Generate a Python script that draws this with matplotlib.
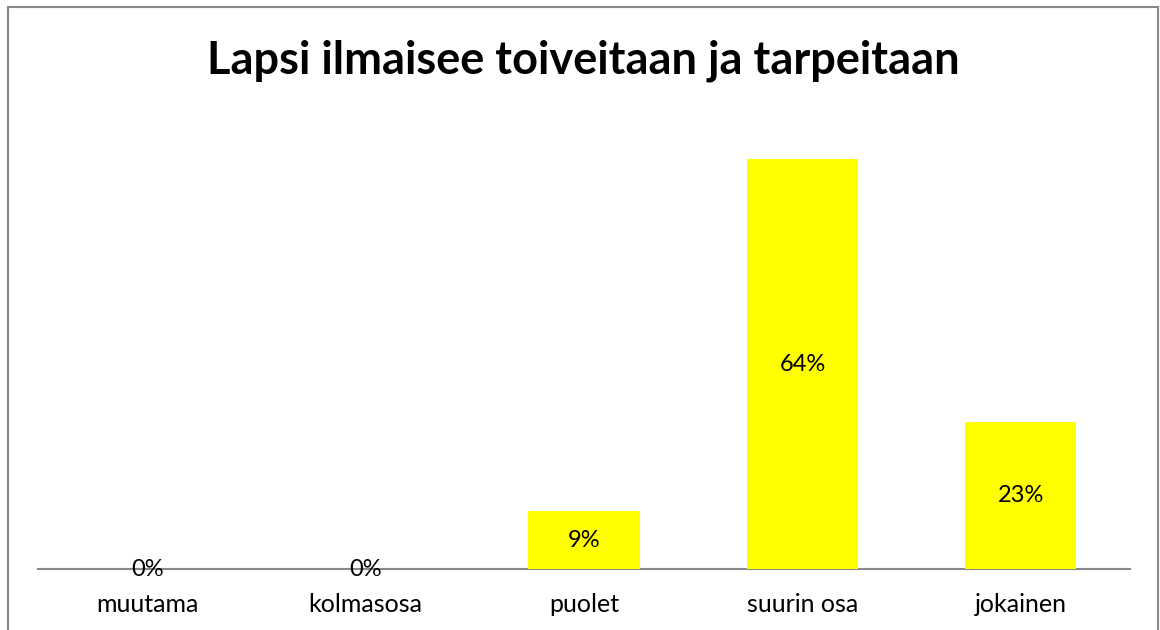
import matplotlib.pyplot as plt
from matplotlib.patches import Rectangle

categories = ['muutama', 'kolmasosa', 'puolet', 'suurin osa', 'jokainen']
values = [0, 0, 9, 64, 23]
title = 'Lapsi ilmaisee toiveitaan ja tarpeitaan'

plt.rcParams['font.family'] = ['Lato', 'DejaVu Sans']

fig = plt.figure(figsize=(11.6, 6.3), dpi=100)
ax = fig.add_axes([38 / 1160, 61 / 630, 1092 / 1160, 448 / 630])

x = range(len(categories))
ax.bar(x, values, width=0.51, color='#FFFF00', zorder=2)
for i, v in zip(x, values):
    ax.text(i, v / 2, f'{v}%', ha='center', va='center', fontsize=17, zorder=3)

ax.set_xlim(-0.5, len(categories) - 0.5)
ax.set_ylim(0, 70)
ax.set_xticks(list(x))
ax.set_xticklabels(categories, fontsize=18)
ax.tick_params(axis='x', length=0, pad=17)
ax.set_yticks([])
for s in ['top', 'right', 'left']:
    ax.spines[s].set_visible(False)
ax.spines['bottom'].set_color('#888888')
ax.spines['bottom'].set_linewidth(1.5)
ax.spines['bottom'].set_zorder(1)

fig.text(583 / 1160, 1 - 61 / 630, title, ha='center', va='center',
         fontsize=32.5, fontweight='bold')

frame = Rectangle((7.5 / 1160, -0.1), 1150 / 1160, 1.1 - 7 / 630,
                  transform=fig.transFigure, fill=False,
                  edgecolor='#888888', linewidth=1.5)
fig.patches.append(frame)

fig.savefig('out.png', dpi=100)
